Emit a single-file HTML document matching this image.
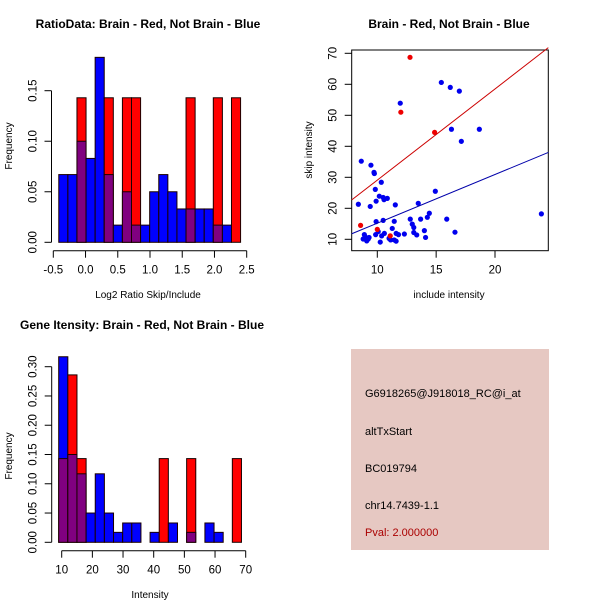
<!DOCTYPE html>
<html><head><meta charset="utf-8"><style>
body{margin:0;background:#fff}
svg{display:block;font-family:"Liberation Sans",sans-serif}
</style></head><body>
<svg id="s" width="600" height="600" xmlns="http://www.w3.org/2000/svg">
<rect width="600" height="600" fill="#fff"/>
</svg>
<script>
// ---- Panel 1 data: log2 ratio histogram ----
const ratioBinStart = -0.415;
const ratioBinWidth = 0.141;
const ratioBlue = [0.067,0.067,0.10,0.083,0.183,0.067,0.017,0.05,0.017,0.017,0.05,0.067,0.05,0.033,0.033,0.033,0.033,0.017,0.017,0];
const ratioRed  = [0,0,0.143,0,0,0.143,0,0.143,0.143,0,0,0,0,0,0.143,0,0,0.143,0,0.143];
const ratioXTicks = [-0.5,0,0.5,1,1.5,2,2.5];
const ratioXTickLabels = ["-0.5","0.0","0.5","1.0","1.5","2.0","2.5"];
const ratioYTicks = [0,0.05,0.10,0.15];
const ratioYTickLabels = ["0.00","0.05","0.10","0.15"];
// ---- Panel 2 data: scatter ----
const blueX = [15.44,16.2,16.97,11.95,16.3,18.67,17.14,8.64,9.46,9.72,9.75,10.34,14.93,9.83,10.17,10.5,10.85,10.57,9.9,13.48,8.39,11.53,9.4,14.42,14.25,23.94,12.8,13.68,15.9,10.5,11.44,9.9,12.97,13.1,11.27,14.0,16.6,10.08,13.1,10.6,11.6,12.3,9.86,11.8,8.9,10.37,14.1,9.04,8.8,9.23,9.3,11.13,11.44,9.1,11.6,10.25,11.0,13.35];
const blueY = [60.6,59.0,57.8,53.9,45.5,45.5,41.6,35.2,33.9,31.6,31.2,28.4,25.5,26.1,23.9,23.5,23.2,22.8,22.3,21.6,21.3,21.1,20.6,18.4,17.1,18.2,16.5,16.5,16.5,16.1,15.8,15.7,14.9,13.8,13.5,12.8,12.3,12.5,12.2,11.9,11.9,11.7,11.5,11.5,11.5,11.1,10.6,10.6,10.1,10.1,10.6,9.8,9.8,9.5,9.4,9.1,10.3,11.4];
const redX = [12.78,12.0,14.87,8.58,10.0,11.1];
const redY = [68.7,51.0,44.5,14.5,13.2,11.1];
const redFit = [-0.3,2.94];   // intercept, slope
const blueFit = [-0.5,1.57];
const scatXTicks = [10,15,20];
const scatYTicks = [10,20,30,40,50,60,70];
// ---- Panel 3 data: intensity histogram ----
const intBinStart = 9.02;
const intBinWidth = 2.98;
const intBlue = [0.317,0.15,0.117,0.05,0.117,0.05,0.017,0.033,0.033,0,0.017,0,0.033,0,0.017,0,0.033,0.017,0,0];
const intRed  = [0.143,0.286,0.143,0,0,0,0,0,0,0,0,0.143,0,0,0.143,0,0,0,0,0.143];
const intXTicks = [10,20,30,40,50,60,70];
const intYTicks = [0,0.05,0.10,0.15,0.20,0.25,0.30];
const intYTickLabels = ["0.00","0.05","0.10","0.15","0.20","0.25","0.30"];

const S = document.getElementById('s');
const NS = 'http://www.w3.org/2000/svg';
function mk(tag, attrs, name, txt){
  const e = document.createElementNS(NS, tag);
  for (const k in attrs) e.setAttribute(k, attrs[k]);
  
  
  if (txt !== undefined) e.textContent = txt;
  S.appendChild(e);
  return e;
}
function lin(d0,d1,r0,r1){ return v => r0 + (v-d0)*(r1-r0)/(d1-d0); }

function hist(prefix, xs, ys, start, w, blue, red){
  for (let i=0;i<blue.length;i++){
    const x0 = xs(start+i*w), x1 = xs(start+(i+1)*w);
    const b = blue[i], r = red[i];
    const hi = Math.max(b,r), lo = Math.min(b,r);
    if (hi>0){
      const e = mk('rect',{x:x0,y:ys(hi),width:x1-x0,height:ys(0)-ys(hi),fill:b>=r?'#0000ff':'#ff0000',stroke:'#1a0000','stroke-width':1}, prefix+'-bar');
      
    }
    if (lo>0){
      const e = mk('rect',{x:x0,y:ys(lo),width:x1-x0,height:ys(0)-ys(lo),fill:'#800080',stroke:'#1a0000','stroke-width':1}, prefix+'-overlap');
      
    }
  }
}
function xAxis(prefix, xs, y, ticks, labels){
  mk('line',{x1:xs(ticks[0]),x2:xs(ticks[ticks.length-1]),y1:y,y2:y,stroke:'#000'}, prefix+'-x-axis');
  ticks.forEach((t,i)=>{
    mk('line',{x1:xs(t),x2:xs(t),y1:y,y2:y+7,stroke:'#000'}, prefix+'-x-tick');
    mk('text',{x:xs(t),y:y+23,'font-size':11.5,'text-anchor':'middle'}, prefix+'-x-tick-label', labels[i]);
  });
}
function yAxis(prefix, ys, x, ticks, labels){
  mk('line',{x1:x,x2:x,y1:ys(ticks[0]),y2:ys(ticks[ticks.length-1]),stroke:'#000'}, prefix+'-y-axis');
  ticks.forEach((t,i)=>{
    mk('line',{x1:x-7,x2:x,y1:ys(t),y2:ys(t),stroke:'#000'}, prefix+'-y-tick');
    const tx = x-15;
    mk('text',{x:tx,y:ys(t),'font-size':11.5,'text-anchor':'middle',transform:`rotate(-90 ${tx} ${ys(t)})`}, prefix+'-y-tick-label', labels[i]);
  });
}

// Panel 1
{
  const xs = lin(-0.5,2.5,53.3,246.7), ys = lin(0,0.15,242.3,90.7);
  hist('ratio', xs, ys, ratioBinStart, ratioBinWidth, ratioBlue, ratioRed);
  xAxis('ratio', xs, 250.7, ratioXTicks, ratioXTickLabels);
  yAxis('ratio', ys, 51.5, ratioYTicks, ratioYTickLabels);
  mk('text',{x:148,y:28,'font-size':12,'font-weight':'bold','text-anchor':'middle'},'ratio-title','RatioData: Brain - Red, Not Brain - Blue');
  mk('text',{x:148,y:298,'font-size':10,'text-anchor':'middle'},'ratio-x-title','Log2 Ratio Skip/Include');
  mk('text',{x:12,y:146,'font-size':10,'text-anchor':'middle',transform:'rotate(-90 12 146)'},'ratio-y-title','Frequency');
}
// Panel 2
{
  const xs = lin(10,20,377.3,495), ys = lin(10,70,239.3,53.3);
  const L=351.7,R=548.3,T=50,B=250.7;
  mk('rect',{x:L,y:T,width:R-L,height:B-T,fill:'none',stroke:'#000'},'scatter-plot-box');
  blueX.forEach((v,i)=>mk('circle',{cx:xs(v),cy:ys(blueY[i]),r:2.6,fill:'#0000ee'},'blue-point'));
  redX.forEach((v,i)=>mk('circle',{cx:xs(v),cy:ys(redY[i]),r:2.6,fill:'#ee0000'},'red-point'));
  const x0=7.83,x1=24.53;
  mk('line',{x1:xs(x0),x2:xs(x1),y1:ys(redFit[0]+redFit[1]*x0),y2:ys(redFit[0]+redFit[1]*x1),stroke:'#cc0000'},'red-fit-line');
  mk('line',{x1:xs(x0),x2:xs(x1),y1:ys(blueFit[0]+blueFit[1]*x0),y2:ys(blueFit[0]+blueFit[1]*x1),stroke:'#0000aa'},'blue-fit-line');
  scatXTicks.forEach(t=>{
    mk('line',{x1:xs(t),x2:xs(t),y1:B,y2:B+7,stroke:'#000'},'scatter-x-tick');
    mk('text',{x:xs(t),y:B+23,'font-size':11.5,'text-anchor':'middle'},'scatter-x-tick-label',String(t));
  });
  scatYTicks.forEach(t=>{
    mk('line',{x1:L-7,x2:L,y1:ys(t),y2:ys(t),stroke:'#000'},'scatter-y-tick');
    mk('text',{x:L-15,y:ys(t),'font-size':11.5,'text-anchor':'middle',transform:`rotate(-90 ${L-15} ${ys(t)})`},'scatter-y-tick-label',String(t));
  });
  mk('text',{x:449,y:28,'font-size':12,'font-weight':'bold','text-anchor':'middle'},'scatter-title','Brain - Red, Not Brain - Blue');
  mk('text',{x:449,y:298,'font-size':10,'text-anchor':'middle'},'scatter-x-title','include intensity');
  mk('text',{x:312,y:150,'font-size':10,'text-anchor':'middle',transform:'rotate(-90 312 150)'},'scatter-y-title','skip intensity');
}
// Panel 3
{
  const xs = lin(10,70,61.7,245.7), ys = lin(0,0.30,542.3,366.7);
  hist('intensity', xs, ys, intBinStart, intBinWidth, intBlue, intRed);
  xAxis('intensity', xs, 550.7, intXTicks, intXTicks.map(String));
  yAxis('intensity', ys, 51.7, intYTicks, intYTickLabels);
  mk('text',{x:142,y:329,'font-size':12,'font-weight':'bold','text-anchor':'middle'},'intensity-title','Gene Itensity: Brain - Red, Not Brain - Blue');
  mk('text',{x:150,y:598,'font-size':10,'text-anchor':'middle'},'intensity-x-title','Intensity');
  mk('text',{x:12,y:456,'font-size':10,'text-anchor':'middle',transform:'rotate(-90 12 456)'},'intensity-y-title','Frequency');
}
// Panel 4 info box
mk('rect',{x:351,y:349,width:198,height:201,fill:'#e6c8c2'},'info-box');
mk('text',{x:365,y:397,'font-size':11},'probe-id','G6918265@J918018_RC@i_at');
mk('text',{x:365,y:435,'font-size':11},'event-type','altTxStart');
mk('text',{x:365,y:472,'font-size':11},'accession','BC019794');
mk('text',{x:365,y:509,'font-size':11},'location','chr14.7439-1.1');
mk('text',{x:365,y:536,'font-size':11,fill:'#aa0000'},'pvalue','Pval: 2.000000');
</script>
</body></html>
